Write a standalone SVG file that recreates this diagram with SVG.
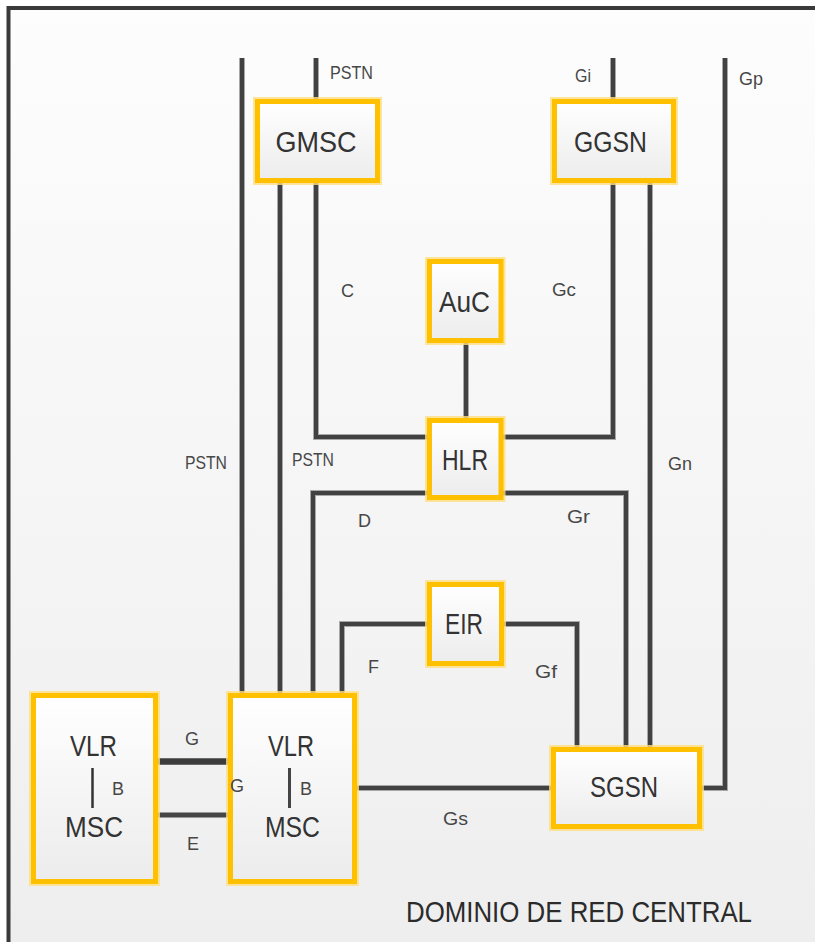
<svg xmlns="http://www.w3.org/2000/svg" width="815" height="942" viewBox="0 0 815 942">
<defs>
<linearGradient id="bg" x1="0" y1="0" x2="0" y2="1"><stop offset="0" stop-color="#fdfdfd"/><stop offset="1" stop-color="#eeeeee"/></linearGradient>
<linearGradient id="nf" x1="0" y1="0" x2="0" y2="1"><stop offset="0" stop-color="#ffffff"/><stop offset="1" stop-color="#ececec"/></linearGradient>
<style>
.halo{fill:none;stroke:#ffdf80;stroke-width:9;opacity:0.8}
.box{fill:url(#nf);stroke:#ffc000;stroke-width:5}
.big{font-family:"Liberation Sans",Arial,sans-serif;font-size:30px;fill:#333;text-anchor:middle}
.sm{font-family:"Liberation Sans",Arial,sans-serif;font-size:18px;fill:#474747}
.ln{fill:none;stroke:#414141;stroke-width:4}
.lns{fill:none;stroke:#a8a8a8;stroke-width:6}
</style>
</defs>
<rect x="0" y="0" width="815" height="942" fill="#ffffff"/>
<rect x="8" y="8" width="807" height="934" fill="url(#bg)"/>
<path d="M8.5,942 V8 H815" fill="none" stroke="#3a3a3a" stroke-width="4"/>

<g id="connectors">
<g class="lns">
<path d="M242,58 V695"/><path d="M316,58 V101"/><path d="M280,183 V695"/>
<path d="M316,183 V437 H429"/><path d="M613,58 V101"/><path d="M613,183 V437 H503"/>
<path d="M650,183 V749"/><path d="M725,58 V788 H702"/><path d="M466,343 V420"/>
<path d="M429,493 H313 V695"/><path d="M503,493 H626 V749"/>
<path d="M429,624 H342 V695"/><path d="M503,624 H577 V749"/>
<path d="M357,788 H553"/>
</g>
<g class="ln">
<path d="M242,58 V695"/><path d="M316,58 V101"/><path d="M280,183 V695"/>
<path d="M316,183 V437 H429"/><path d="M613,58 V101"/><path d="M613,183 V437 H503"/>
<path d="M650,183 V749"/><path d="M725,58 V788 H702"/><path d="M466,343 V420"/>
<path d="M429,493 H313 V695"/><path d="M503,493 H626 V749"/>
<path d="M429,624 H342 V695"/><path d="M503,624 H577 V749"/>
<path d="M357,788 H553"/>
</g>
<path d="M158,761.5 H228" stroke="#3c3c3c" stroke-width="6.5" fill="none"/>
<path d="M158,815 H228" stroke="#454545" stroke-width="5" fill="none"/>
</g>

<g id="GMSC"><rect class="halo" x="257.5" y="101.5" width="120" height="79"/><rect class="box" x="257.5" y="101.5" width="120" height="79"/><text class="big" x="316" y="152" textLength="81" lengthAdjust="spacingAndGlyphs">GMSC</text></g>
<g id="GGSN"><rect class="halo" x="554.5" y="101.5" width="119" height="79"/><rect class="box" x="554.5" y="101.5" width="119" height="79"/><text class="big" x="610.5" y="152" textLength="73" lengthAdjust="spacingAndGlyphs">GGSN</text></g>
<g id="AuC"><rect class="halo" x="429.5" y="261.5" width="71.5" height="79"/><rect class="box" x="429.5" y="261.5" width="71.5" height="79"/><text class="big" x="464.5" y="312" textLength="51" lengthAdjust="spacingAndGlyphs">AuC</text></g>
<g id="HLR"><rect class="halo" x="429.5" y="420.5" width="71.5" height="77"/><rect class="box" x="429.5" y="420.5" width="71.5" height="77"/><text class="big" x="465" y="470" textLength="46" lengthAdjust="spacingAndGlyphs">HLR</text></g>
<g id="EIR"><rect class="halo" x="429.5" y="584.5" width="72" height="79"/><rect class="box" x="429.5" y="584.5" width="72" height="79"/><text class="big" x="464" y="634" textLength="38" lengthAdjust="spacingAndGlyphs">EIR</text></g>
<g id="SGSN"><rect class="halo" x="553.5" y="749.5" width="146" height="77"/><rect class="box" x="553.5" y="749.5" width="146" height="77"/><text class="big" x="624" y="797" textLength="68" lengthAdjust="spacingAndGlyphs">SGSN</text></g>
<g id="VLR_MSC_1"><rect class="halo" x="33.5" y="695.5" width="122" height="186"/><rect class="box" x="33.5" y="695.5" width="122" height="186"/>
<text class="big" x="93.5" y="756" textLength="47" lengthAdjust="spacingAndGlyphs">VLR</text>
<path d="M92.5,768 V808" stroke="#333" stroke-width="2.5"/>
<text class="sm" x="112" y="795">B</text>
<text class="big" x="94" y="837" textLength="58" lengthAdjust="spacingAndGlyphs">MSC</text></g>
<g id="VLR_MSC_2"><rect class="halo" x="230.5" y="695.5" width="124" height="186"/><rect class="box" x="230.5" y="695.5" width="124" height="186"/>
<text class="big" x="291" y="756" textLength="46" lengthAdjust="spacingAndGlyphs">VLR</text>
<path d="M289.5,768 V808" stroke="#444" stroke-width="3"/>
<text class="sm" x="300" y="795">B</text>
<text class="big" x="292.5" y="837" textLength="55" lengthAdjust="spacingAndGlyphs">MSC</text></g>

<g id="labels">
<text class="sm" x="330" y="79" font-size="17" textLength="43" lengthAdjust="spacingAndGlyphs">PSTN</text>
<text class="sm" x="575" y="82" textLength="16" lengthAdjust="spacingAndGlyphs">Gi</text>
<text class="sm" x="739" y="85" textLength="24" lengthAdjust="spacingAndGlyphs">Gp</text>
<text class="sm" x="341" y="297">C</text>
<text class="sm" x="552" y="296" textLength="24" lengthAdjust="spacingAndGlyphs">Gc</text>
<text class="sm" x="185" y="469" font-size="17" textLength="42" lengthAdjust="spacingAndGlyphs">PSTN</text>
<text class="sm" x="292" y="466" font-size="17" textLength="42" lengthAdjust="spacingAndGlyphs">PSTN</text>
<text class="sm" x="668" y="470" textLength="24" lengthAdjust="spacingAndGlyphs">Gn</text>
<text class="sm" x="358" y="527">D</text>
<text class="sm" x="567" y="523" textLength="23" lengthAdjust="spacingAndGlyphs">Gr</text>
<text class="sm" x="368" y="673">F</text>
<text class="sm" x="535" y="678" textLength="22" lengthAdjust="spacingAndGlyphs">Gf</text>
<text class="sm" x="185" y="745">G</text>
<text class="sm" x="230" y="792">G</text>
<text class="sm" x="187" y="850">E</text>
<text class="sm" x="443" y="825" textLength="25" lengthAdjust="spacingAndGlyphs">Gs</text>
<text x="406" y="922" font-family="'Liberation Sans',Arial,sans-serif" font-size="30" fill="#2b2b2b" textLength="346" lengthAdjust="spacingAndGlyphs">DOMINIO DE RED CENTRAL</text>
</g>
</svg>
